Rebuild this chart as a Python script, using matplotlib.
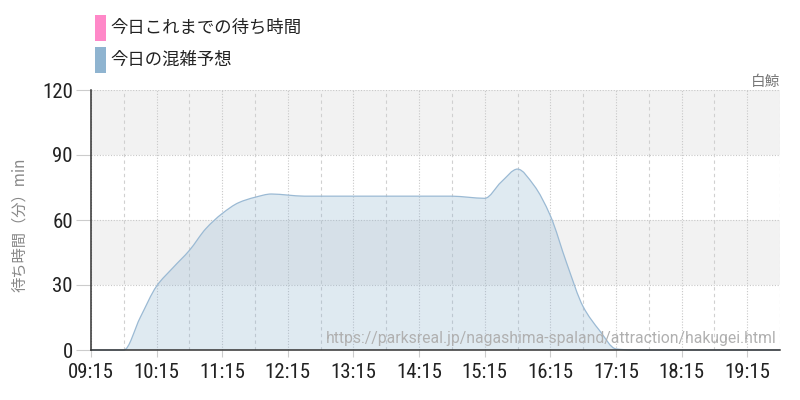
import matplotlib
matplotlib.use("Agg")
import matplotlib.pyplot as plt
from matplotlib.patches import Rectangle, PathPatch
from matplotlib.path import Path
import numpy as np

# ---- data ----
times = ["09:15", "09:30", "09:45", "10:00", "10:15", "10:30", "10:45", "11:00",
         "11:15", "11:30", "11:45", "12:00", "12:15", "12:30", "12:45", "13:00",
         "13:15", "13:30", "13:45", "14:00", "14:15", "14:30", "14:45", "15:00",
         "15:15", "15:30", "15:45", "16:00", "16:15", "16:30", "16:45", "17:00",
         "17:15", "17:30", "17:45", "18:00", "18:15", "18:30", "18:45", "19:00",
         "19:15", "19:30", "19:45"]
forecast = [0, 0, 0, 15, 29.5, 38, 46, 56,
            63, 68, 70.5, 72, 71.5, 71, 71, 71,
            71, 71, 71, 71, 71, 71, 71, 70.5,
            70, 77.5, 83.5, 76, 62, 40, 20, 9,
            0.5, 0, 0, 0, 0, 0, 0, 0,
            0, 0, 0]
actual_times = []
actual = []
tick_labels = ["09:15", "10:15", "11:15", "12:15", "13:15", "14:15",
               "15:15", "16:15", "17:15", "18:15", "19:15"]
y_ticks = [0, 30, 60, 90, 120]
legend_labels = ["今日これまでの待ち時間", "今日の混雑予想"]
attraction = "白鯨"
ylabel = "待ち時間（分）min"
watermark = "https://parksreal.jp/nagashima-spaland/attraction/hakugei.html"


def to_min(t):
    h, m = t.split(":")
    return int(h) * 60 + int(m)


def smooth_path(xs, ys):
    """Monotone cubic Bezier path through the data points (drawing style only)."""
    xs = np.asarray(xs, float)
    ys = np.asarray(ys, float)
    n = len(xs)
    h = np.diff(xs)
    d = np.diff(ys) / h
    m = np.zeros(n)
    m[0], m[-1] = d[0], d[-1]
    for i in range(1, n - 1):
        if d[i - 1] * d[i] <= 0:
            m[i] = 0
        else:
            w1 = 2 * h[i] + h[i - 1]
            w2 = h[i] + 2 * h[i - 1]
            m[i] = (w1 + w2) / (w1 / d[i - 1] + w2 / d[i])
    verts = [(xs[0], ys[0])]
    codes = [Path.MOVETO]
    for i in range(n - 1):
        verts += [(xs[i] + h[i] / 3, ys[i] + m[i] * h[i] / 3),
                  (xs[i + 1] - h[i] / 3, ys[i + 1] - m[i + 1] * h[i] / 3),
                  (xs[i + 1], ys[i + 1])]
        codes += [Path.CURVE4] * 3
    return verts, codes


plt.rcParams['font.family'] = ['Noto Sans CJK JP', 'DejaVu Sans']

fig = plt.figure(figsize=(8, 4), dpi=100)
ax = fig.add_axes([91 / 800, 50 / 400, 689 / 800, 260 / 400])

x = np.array([to_min(t) for t in times])
y = np.array(forecast)
xmin, xmax = to_min("09:15"), to_min("19:45")
ax.set_xlim(xmin, xmax)
ax.set_ylim(0, 120)

# bands
for lo, hi in [(30, 60), (90, 120)]:
    ax.axhspan(lo, hi, color="#f2f2f2", zorder=0, lw=0)

# grid
for yy in y_ticks[1:]:
    ax.axhline(yy, color="#c8c8c8", lw=0.8, ls=(0, (1, 1.5)), zorder=1)
t = xmin
while t <= xmax:
    if t % 60 == 15:
        ax.axvline(t, color="#c8c8c8", lw=0.8, ls=(0, (1, 1.5)), zorder=1)
    else:
        ax.axvline(t, color="#d0d0d0", lw=0.8, ls=(0, (3, 3)), zorder=1)
    t += 30

verts, codes = smooth_path(x, y)
fill_verts = verts + [(x[-1], 0), (x[0], 0), (x[0], y[0])]
fill_codes = codes + [Path.LINETO, Path.LINETO, Path.CLOSEPOLY]
ax.add_patch(PathPatch(Path(fill_verts, fill_codes), facecolor="#8fb4d0", alpha=0.28,
                       lw=0, zorder=2))
ax.add_patch(PathPatch(Path(verts, codes), facecolor="none", edgecolor="#9bbad4",
                       lw=0.9, zorder=3, clip_on=False))
if actual:
    ax.plot([to_min(t) for t in actual_times], actual, color="#ff88c8", lw=1.5, zorder=4)

for s in ["top", "right"]:
    ax.spines[s].set_visible(False)
for s in ["left", "bottom"]:
    ax.spines[s].set_color("#333333")
    ax.spines[s].set_linewidth(1.1)
    ax.spines[s].set_zorder(5)

ax.set_xticks([to_min(t) for t in tick_labels])
ax.set_xticklabels(tick_labels)
ax.set_yticks(y_ticks)
for lab in ax.get_xticklabels() + ax.get_yticklabels():
    lab.set_fontfamily(['Roboto Condensed', 'DejaVu Sans'])
    lab.set_fontsize(15)
    lab.set_color("#222222")
ax.tick_params(axis='x', length=5, color="#cccccc", width=0.8, pad=4)
ax.tick_params(axis='y', length=11, color="#cccccc", width=0.8, pad=2)

fig.text(20 / 800, 1 - 225 / 400, ylabel, rotation=90, ha="center", va="center",
         fontsize=11, color="#888888")
fig.text(780 / 800, 1 - 86 / 400, attraction, ha="right", va="baseline",
         fontsize=10.5, color="#777777")
ax.text(0.995, 0.045, watermark, transform=ax.transAxes, ha="right", va="center",
        fontsize=11.3, color="#b0b0b0", family=['Roboto', 'DejaVu Sans'], zorder=6)

# legend
for i, (lab, col) in enumerate(zip(legend_labels, ["#ff88c8", "#8fb4d0"])):
    top = 15 + i * 32
    fig.patches.append(Rectangle((95 / 800, 1 - (top + 26) / 400), 11 / 800, 26 / 400,
                                 transform=fig.transFigure, color=col, lw=0))
    fig.text(110 / 800, 1 - (top + 13) / 400, lab, ha="left", va="center",
             fontsize=12.5, color="#222222")

fig.savefig("out.png", dpi=100)
